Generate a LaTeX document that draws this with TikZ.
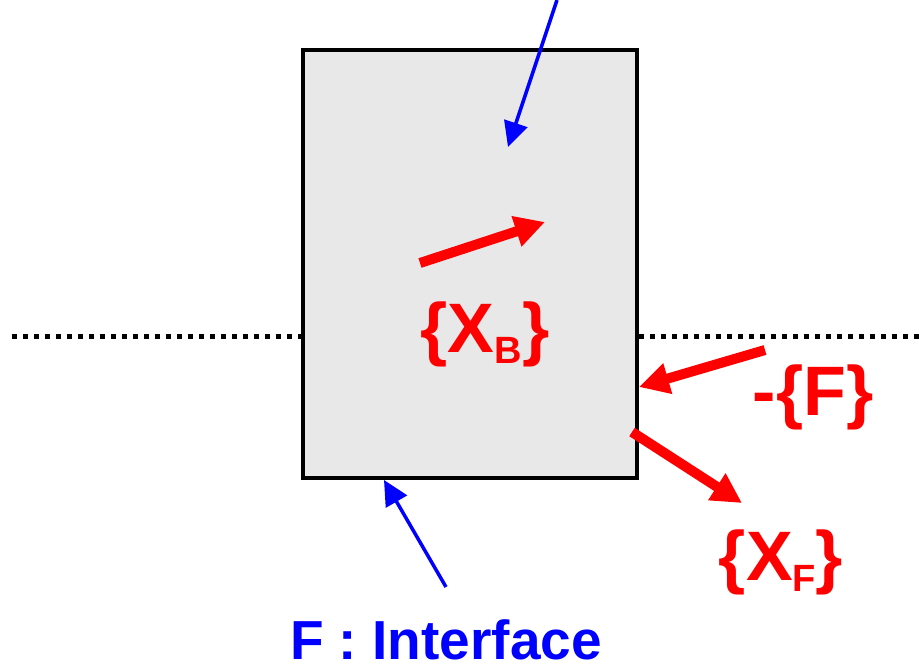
\documentclass[tikz,border=0pt]{standalone}
\usepackage{fontspec}
\setmainfont{Liberation Sans}
\usetikzlibrary{arrows.meta}

\newcommand{\subidx}[1]{\raisebox{-11pt}{\fontsize{38}{38}\selectfont #1}}

\begin{document}
\begin{tikzpicture}[
    x=1pt, y=-1pt,
    redarrow/.style={draw=red, line width=10pt, -{Triangle[length=30pt,width=30pt]}},
    bluearrow/.style={draw=blue, line width=3.5pt, -{Triangle[length=25pt,width=24pt]}},
    redlabel/.style={text=red, font=\bfseries\fontsize{70}{70}\selectfont, anchor=base, inner sep=0pt},
    bluelabel/.style={text=blue, font=\bfseries\fontsize{55}{55}\selectfont, anchor=base, inner sep=0pt}
]
  \useasboundingbox (0,0) rectangle (919,667);

  % Dotted separation line
  \coordinate (lineL) at (12,336);
  \coordinate (lineR) at (925,336);
  \draw[line width=5pt, dash pattern=on 5pt off 6pt] (lineL)--(lineR);

  % Body
  \node (body) [draw, line width=4pt, fill={rgb,255:red,232;green,232;blue,232},
    minimum width=334pt, minimum height=428pt, inner sep=0pt] at (470,264) {};

  % Labels
  \node (xb) [redlabel] at (485,352) {\{X\subidx{B}\}};
  \node (mf) [redlabel] at (813,415) {-\{F\}};
  \node (xf) [redlabel] at (781,580) {\{X\subidx{F}\}};
  \node (iface) [bluelabel] at (446,659) {F : Interface};

  % Arrow end points
  \coordinate (topS) at (557,0);
  \coordinate (topT) at (508,147);
  \coordinate (botS) at (446,587);
  \coordinate (botT) at (384,480);
  \coordinate (xbS) at (420,263);
  \coordinate (xbT) at (545,222);
  \coordinate (mfS) at (765,350);
  \coordinate (mfT) at (639,387);
  \coordinate (xfS) at (632,432);
  \coordinate (xfT) at (742,503);

  % Blue arrows
  \draw[bluearrow] (topS)--(topT);
  \draw[bluearrow] (botS)--(botT);

  % Red arrows
  \draw[redarrow] (xbS)--(xbT);
  \draw[redarrow] (mfS)--(mfT);
  \draw[redarrow] (xfS)--(xfT);
\end{tikzpicture}
\end{document}
